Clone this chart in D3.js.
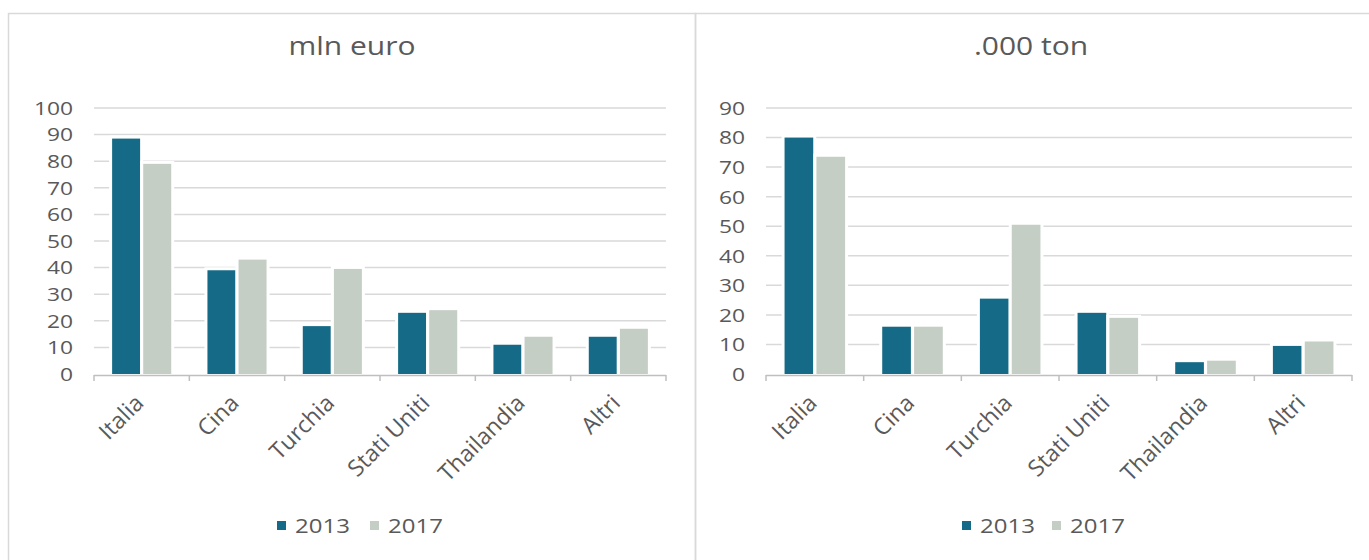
<!DOCTYPE html>
<html>
<head>
<meta charset="utf-8">
<script src="https://cdn.jsdelivr.net/npm/d3@7"></script>
<style>
  body { margin: 0; background: #fff; }
  text { font-family: "Open Sans", "Liberation Sans", sans-serif; fill: #595959; }
</style>
</head>
<body>
<div class="CHART"></div>
<script>
// data
var categories = ["Italia", "Cina", "Turchia", "Stati Uniti", "Thailandia", "Altri"];
var years = ["2013", "2017"];
var euro2013 = [88.5, 39, 18, 23, 11, 14];
var euro2017 = [79, 43, 39.5, 24, 14, 17];
var ton2013 = [80, 16, 25.5, 20.7, 4, 9.5];
var ton2017 = [73.5, 16, 50.5, 19, 4.5, 11];
var euroTicks = [0, 10, 20, 30, 40, 50, 60, 70, 80, 90, 100];
var tonTicks = [0, 10, 20, 30, 40, 50, 60, 70, 80, 90];

var colors = {"2013": "#156b87", "2017": "#c5cec5"};
var SX = 1.2; // the picture's text looks a bit stretched sideways

var W = 1369, H = 560;
var svg = d3.select(".CHART").append("svg")
    .attr("width", W)
    .attr("height", H);

// panel borders
svg.append("rect").attr("x", 8.5).attr("y", 13.5).attr("width", 687).attr("height", 560)
    .attr("fill", "none").attr("stroke", "#d9d9d9").attr("stroke-width", 1.5);
svg.append("rect").attr("x", 695.5).attr("y", 13.5).attr("width", 700).attr("height", 560)
    .attr("fill", "none").attr("stroke", "#d9d9d9").attr("stroke-width", 1.5);

function tr(px, py, s) {
  return "translate(" + px + "," + py + ") scale(" + (s || SX) + ",1)";
}

function drawPanel(opt) {
  var g = svg.append("g");

  var x = d3.scaleBand().domain(categories).range([opt.x0, opt.x1])
      .paddingInner(0.38).paddingOuter(0.19);
  var xs = d3.scaleBand().domain(years).range([0, x.bandwidth()]).paddingInner(0.1);
  var y = d3.scaleLinear().domain([0, opt.max]).range([374, 108]);

  g.append("text")
    .attr("transform", tr(opt.titleX, 55))
    .attr("text-anchor", "middle")
    .style("font-size", "25px")
    .text(opt.title);

  // gridlines
  g.selectAll(".grid").data(opt.ticks.slice(1)).enter().append("line")
    .attr("x1", opt.x0).attr("x2", opt.x1)
    .attr("y1", function(d){ return y(d); })
    .attr("y2", function(d){ return y(d); })
    .attr("stroke", "#d9d9d9").attr("stroke-width", 1.5);

  // y labels
  g.selectAll(".ylab").data(opt.ticks).enter().append("text")
    .attr("transform", function(d){ return tr(opt.x0 - 21, y(d)); })
    .attr("dy", "0.36em")
    .attr("text-anchor", "end")
    .style("font-size", "19px")
    .text(function(d){ return d; });

  // bars
  var rows = categories.map(function(c, i){
    return [{cat: c, year: "2013", v: opt.s2013[i]}, {cat: c, year: "2017", v: opt.s2017[i]}];
  });
  var grp = g.selectAll(".grp").data(rows).enter().append("g")
    .attr("transform", function(d){ return "translate(" + x(d[0].cat) + ",0)"; });
  grp.selectAll("rect").data(function(d){ return d; }).enter().append("rect")
    .attr("x", function(d){ return xs(d.year); })
    .attr("y", function(d){ return y(d.v); })
    .attr("width", xs.bandwidth())
    .attr("height", function(d){ return y(0) - y(d.v); })
    .attr("fill", function(d){ return colors[d.year]; })
    .attr("stroke", "#fff").attr("stroke-width", 6)
    .attr("paint-order", "stroke");

  // x axis line and ticks
  var step = x.step();
  g.append("line").attr("x1", opt.x0).attr("x2", opt.x1)
    .attr("y1", 375.5).attr("y2", 375.5)
    .attr("stroke", "#bfbfbf").attr("stroke-width", 1.5);
  g.selectAll(".xt").data(d3.range(categories.length + 1)).enter().append("line")
    .attr("x1", function(i){ return opt.x0 + i * step; })
    .attr("x2", function(i){ return opt.x0 + i * step; })
    .attr("y1", 375).attr("y2", 381)
    .attr("stroke", "#bfbfbf").attr("stroke-width", 1.5);

  // category labels
  g.selectAll(".xlab").data(categories).enter().append("text")
    .attr("transform", function(d){
      return "translate(" + (x(d) + x.bandwidth() / 2 - 8) + ",393) rotate(-45)";
    })
    .attr("text-anchor", "end")
    .attr("dy", "0.7em")
    .style("font-size", "23px")
    .text(function(d){ return d; });

  // legend
  var leg = g.selectAll(".leg").data(years).enter().append("g")
    .attr("transform", function(d, i){ return "translate(" + (opt.legX + i * opt.legGap) + ",0)"; });
  leg.append("rect").attr("x", 0).attr("y", 521).attr("width", 9).attr("height", 9)
    .attr("fill", function(d){ return colors[d]; });
  leg.append("text").attr("transform", tr(18, 533))
    .style("font-size", "20px")
    .text(function(d){ return d; });
}

drawPanel({x0: 94, x1: 666, max: 100, ticks: euroTicks, s2013: euro2013, s2017: euro2017,
  title: "mln euro", titleX: 352, legX: 277, legGap: 93});
drawPanel({x0: 766, x1: 1352, max: 90, ticks: tonTicks, s2013: ton2013, s2017: ton2017,
  title: ".000 ton", titleX: 1031, legX: 962, legGap: 90});
</script>
</body>
</html>
